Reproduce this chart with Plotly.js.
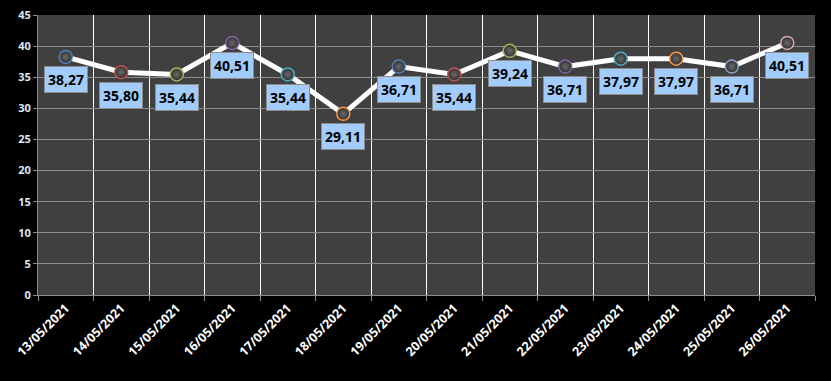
<!DOCTYPE html>
<html>
<head>
<meta charset="utf-8">
<script src="https://cdn.plot.ly/plotly-3.0.1.min.js"></script>
<style>html,body{margin:0;padding:0;background:#000;}#chart{width:831px;height:381px;}</style>
</head>
<body>
<div id="chart"></div>
<script>
const dates = ["13/05/2021","14/05/2021","15/05/2021","16/05/2021","17/05/2021","18/05/2021","19/05/2021","20/05/2021","21/05/2021","22/05/2021","23/05/2021","24/05/2021","25/05/2021","26/05/2021"];
const values = [38.27, 35.80, 35.44, 40.51, 35.44, 29.11, 36.71, 35.44, 39.24, 36.71, 37.97, 37.97, 36.71, 40.51];
const markerEdge = ["#4f81bd","#c0504d","#9bbb59","#8064a2","#4bacc6","#f79646","#4f81bd","#c0504d","#9bbb59","#8064a2","#4bacc6","#f79646","#8ea3c8","#d8a8ac"];

const fmt = v => v.toFixed(2).replace('.', ',');

const trace = {
  x: dates, y: values, type: 'scatter', mode: 'lines+markers',
  line: {color: '#ffffff', width: 5},
  marker: {size: 13, color: '#303030', gradient: {type: 'radial', color: '#6a6a6a'},
           line: {color: markerEdge, width: 1.5}},
  hoverinfo: 'none'
};

const annotations = dates.map((d, i) => ({
  x: d, y: values[i], xref: 'x', yref: 'y', text: fmt(values[i]),
  showarrow: false, yshift: -23,
  font: {family: 'Open Sans, Liberation Sans, sans-serif', size: 14, color: '#000', weight: 'bold'},
  bgcolor: '#a2ccfb', bordercolor: '#8c8c8c', borderwidth: 1, borderpad: 3
}));

const layout = {
  width: 831, height: 381,
  margin: {l: 38, r: 16, t: 15, b: 86},
  paper_bgcolor: '#000000', plot_bgcolor: '#404040',
  showlegend: false,
  font: {family: 'Open Sans, Liberation Sans, sans-serif'},
  xaxis: {
    type: 'category', tickson: 'boundaries', tickangle: -45,
    showgrid: true, gridcolor: '#ffffff', gridwidth: 1,
    showline: true, linecolor: '#8c8c8c', linewidth: 1,
    ticks: 'outside', ticklen: 5, tickcolor: '#8c8c8c',
    tickfont: {size: 12.5, color: '#ffffff', weight: 'bold'},
    range: [-0.5, 13.5], fixedrange: true
  },
  yaxis: {
    range: [0, 45], dtick: 5, tick0: 0,
    showgrid: true, gridcolor: '#8c8c8c', gridwidth: 1,
    showline: true, linecolor: '#8c8c8c', linewidth: 1,
    ticks: 'outside', ticklen: 4, tickcolor: '#8c8c8c',
    zeroline: false,
    tickfont: {size: 11, color: '#dde8f6', weight: 'bold'},
    fixedrange: true
  },
  annotations: annotations
};

Plotly.newPlot('chart', [trace], layout, {displayModeBar: false, staticPlot: true});
</script>
</body>
</html>
